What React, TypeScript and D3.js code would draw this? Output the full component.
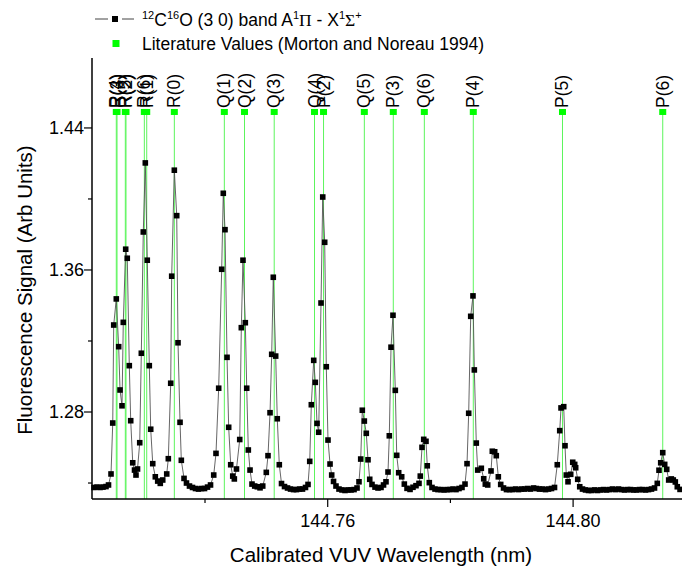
import React from 'react';
import * as d3 from 'd3';

// Measured spectrum: [wavelength (nm), fluorescence signal]
const wavelengths: number[] = [
  144.72191, 144.72240, 144.72289, 144.72337, 144.72386, 144.72427, 144.72468, 144.72496, 144.72512, 144.72554,
  144.72593, 144.72615, 144.72647, 144.72668, 144.72707, 144.72733, 144.72766, 144.72789, 144.72822, 144.72851,
  144.72875, 144.72900, 144.72936, 144.72962, 144.72994, 144.73027, 144.73059, 144.73092, 144.73115, 144.73148,
  144.73190, 144.73229, 144.73271, 144.73311, 144.73376, 144.73402, 144.73441, 144.73457, 144.73500, 144.73539,
  144.73560, 144.73593, 144.73614, 144.73658, 144.73698, 144.73747, 144.73796, 144.73845, 144.73894, 144.73943,
  144.73992, 144.74041, 144.74090, 144.74142, 144.74179, 144.74223, 144.74272, 144.74298, 144.74326, 144.74359,
  144.74386, 144.74419, 144.74452, 144.74478, 144.74513, 144.74566, 144.74592, 144.74619, 144.74657, 144.74680,
  144.74706, 144.74734, 144.74766, 144.74810, 144.74852, 144.74897, 144.74941, 144.74999, 144.75027, 144.75060,
  144.75087, 144.75113, 144.75152, 144.75178, 144.75211, 144.75247, 144.75296, 144.75345, 144.75394, 144.75443,
  144.75491, 144.75540, 144.75589, 144.75638, 144.75679, 144.75707, 144.75733, 144.75772, 144.75798, 144.75826,
  144.75853, 144.75891, 144.75919, 144.75951, 144.75977, 144.76005, 144.76038, 144.76065, 144.76095, 144.76135,
  144.76184, 144.76233, 144.76282, 144.76331, 144.76380, 144.76429, 144.76478, 144.76510, 144.76538, 144.76564,
  144.76597, 144.76629, 144.76657, 144.76685, 144.76722, 144.76771, 144.76820, 144.76869, 144.76910, 144.76950,
  144.76983, 144.77004, 144.77032, 144.77064, 144.77102, 144.77125, 144.77157, 144.77206, 144.77249, 144.77293,
  144.77342, 144.77390, 144.77439, 144.77488, 144.77509, 144.77537, 144.77565, 144.77602, 144.77623, 144.77656,
  144.77700, 144.77749, 144.77798, 144.77847, 144.77896, 144.77945, 144.77994, 144.78042, 144.78091, 144.78140,
  144.78189, 144.78238, 144.78271, 144.78298, 144.78331, 144.78368, 144.78390, 144.78422, 144.78445, 144.78504,
  144.78543, 144.78569, 144.78608, 144.78662, 144.78683, 144.78722, 144.78748, 144.78781, 144.78820, 144.78866,
  144.78914, 144.78963, 144.79012, 144.79061, 144.79110, 144.79159, 144.79208, 144.79257, 144.79306, 144.79355,
  144.79403, 144.79452, 144.79501, 144.79550, 144.79599, 144.79648, 144.79697, 144.79742, 144.79782, 144.79803,
  144.79847, 144.79868, 144.79889, 144.79917, 144.79961, 144.79994, 144.80026, 144.80042, 144.80075, 144.80108,
  144.80153, 144.80202, 144.80251, 144.80300, 144.80349, 144.80398, 144.80447, 144.80496, 144.80544, 144.80593,
  144.80642, 144.80691, 144.80740, 144.80789, 144.80838, 144.80887, 144.80936, 144.80985, 144.81033, 144.81082,
  144.81131, 144.81180, 144.81229, 144.81278, 144.81327, 144.81372, 144.81400, 144.81428, 144.81461, 144.81493,
  144.81526, 144.81558, 144.81601, 144.81633, 144.81666, 144.81698, 144.81743,
];

const signal: number[] = [
  1.2375, 1.2377, 1.2375, 1.2377, 1.2380, 1.2389, 1.2451, 1.2738, 1.3290, 1.3437,
  1.3168, 1.2924, 1.2835, 1.3305, 1.3717, 1.3666, 1.3061, 1.2751, 1.2514, 1.2473,
  1.2445, 1.2479, 1.2627, 1.3131, 1.3814, 1.4203, 1.3655, 1.3061, 1.2703, 1.2509,
  1.2435, 1.2411, 1.2398, 1.2417, 1.2451, 1.2537, 1.2962, 1.3565, 1.4162, 1.3906,
  1.3190, 1.2742, 1.2528, 1.2426, 1.2400, 1.2383, 1.2375, 1.2369, 1.2366, 1.2369,
  1.2369, 1.2377, 1.2389, 1.2445, 1.2567, 1.2934, 1.3604, 1.4032, 1.3827, 1.3108,
  1.2714, 1.2503, 1.2439, 1.2423, 1.2479, 1.2645, 1.3275, 1.3655, 1.3303, 1.2934,
  1.2586, 1.2473, 1.2394, 1.2383, 1.2379, 1.2373, 1.2383, 1.2460, 1.2554, 1.2796,
  1.3125, 1.3559, 1.3115, 1.2762, 1.2503, 1.2397, 1.2380, 1.2372, 1.2366, 1.2363,
  1.2363, 1.2366, 1.2366, 1.2375, 1.2392, 1.2522, 1.2841, 1.3091, 1.2967, 1.2736,
  1.2686, 1.3414, 1.4011, 1.3756, 1.3055, 1.2642, 1.2507, 1.2445, 1.2409, 1.2383,
  1.2366, 1.2361, 1.2358, 1.2361, 1.2361, 1.2363, 1.2372, 1.2407, 1.2535, 1.2810,
  1.2749, 1.2680, 1.2531, 1.2421, 1.2392, 1.2377, 1.2372, 1.2375, 1.2389, 1.2407,
  1.2462, 1.2666, 1.3165, 1.3345, 1.2922, 1.2556, 1.2458, 1.2435, 1.2394, 1.2370,
  1.2364, 1.2376, 1.2385, 1.2398, 1.2439, 1.2601, 1.2646, 1.2635, 1.2497, 1.2402,
  1.2375, 1.2366, 1.2363, 1.2363, 1.2361, 1.2363, 1.2363, 1.2366, 1.2363, 1.2369,
  1.2375, 1.2394, 1.2509, 1.2793, 1.3339, 1.3454, 1.3037, 1.2625, 1.2473, 1.2483,
  1.2424, 1.2394, 1.2389, 1.2468, 1.2579, 1.2576, 1.2554, 1.2435, 1.2392, 1.2372,
  1.2363, 1.2363, 1.2363, 1.2366, 1.2363, 1.2366, 1.2366, 1.2369, 1.2366, 1.2372,
  1.2369, 1.2366, 1.2366, 1.2363, 1.2366, 1.2369, 1.2375, 1.2503, 1.2695, 1.2823,
  1.2830, 1.2610, 1.2445, 1.2407, 1.2449, 1.2517, 1.2505, 1.2486, 1.2421, 1.2379,
  1.2366, 1.2361, 1.2358, 1.2358, 1.2361, 1.2358, 1.2361, 1.2363, 1.2361, 1.2363,
  1.2366, 1.2363, 1.2366, 1.2363, 1.2361, 1.2363, 1.2363, 1.2361, 1.2361, 1.2363,
  1.2363, 1.2361, 1.2363, 1.2366, 1.2372, 1.2398, 1.2472, 1.2514, 1.2571, 1.2505,
  1.2477, 1.2417, 1.2423, 1.2417, 1.2406, 1.2379, 1.2364,
];

// Literature line positions (Morton and Noreau 1994)
const litLabels: string[] = [
  'R(4)', 'R(5)', 'R(1)', 'R(3)', 'R(2)', 'R(6)', 'R(0)', 'Q(1)', 'Q(2)', 'Q(3)',
  'Q(4)', 'P(2)', 'Q(5)', 'P(3)', 'Q(6)', 'P(4)', 'P(5)', 'P(6)',
];
const litWavelengths: number[] = [
  144.72554, 144.72701, 144.73050, 144.72566, 144.72712, 144.73011, 144.73500, 144.74315, 144.74644, 144.75128,
  144.75785, 144.75932, 144.76597, 144.77069, 144.77575, 144.78373, 144.79827, 144.81461,
];
const litSignal = 1.449;

const xMajorTicks: number[] = [144.76, 144.8];
const xMinorTicks: number[] = [144.74, 144.78];
const yMajorTicks: number[] = [1.28, 1.36, 1.44];
const yMinorTicks: number[] = [1.24, 1.32, 1.4];

const W = 682;
const H = 567;
const plot = { left: 92, right: 682, top: 58, bottom: 499 };
const FONT = '"Liberation Sans", Arial, sans-serif';

export default function App() {
  const x = d3.scaleLinear().domain([144.72158, 144.81775]).range([plot.left, plot.right]);
  const y = d3.scaleLinear().domain([1.2310, 1.4794]).range([plot.bottom, plot.top]);

  const points = wavelengths.map((w, i) => [w, signal[i]] as [number, number]);
  const line = d3
    .line<[number, number]>()
    .x((d) => x(d[0]))
    .y((d) => y(d[1]));

  const ms = 5.6;
  const litY = y(litSignal);

  return (
    <svg
      width={W}
      height={H}
      viewBox={`0 0 ${W} ${H}`}
      style={{ position: 'absolute', left: 0, top: 0, background: '#fff' }}
      fontFamily={FONT}
    >
      <rect x={0} y={0} width={W} height={H} fill="#fff" />

      {/* literature drop lines */}
      {litWavelengths.map((w, i) => (
        <line
          key={'ll' + i}
          x1={x(w)}
          x2={x(w)}
          y1={litY}
          y2={plot.bottom}
          stroke="#5cf55c"
          strokeWidth={1}
        />
      ))}

      {/* spectrum line */}
      <path d={line(points) || ''} fill="none" stroke="#555" strokeWidth={0.9} />
      {points.map((d, i) => (
        <rect
          key={'p' + i}
          x={x(d[0]) - ms / 2}
          y={y(d[1]) - ms / 2}
          width={ms}
          height={ms}
          fill="#000"
        />
      ))}

      {/* literature markers and labels */}
      {litWavelengths.map((w, i) => (
        <g key={'lm' + i}>
          <rect x={x(w) - 3.5} y={litY - 3} width={7} height={6} fill="#00ff00" />
          <text
            x={x(w) + 6}
            y={108}
            transform={`rotate(-90, ${x(w) + 6}, 108)`}
            fontSize={17.5}
            fill="#000"
          >
            {litLabels[i]}
          </text>
        </g>
      ))}

      {/* axes */}
      <line x1={plot.left} x2={plot.left} y1={plot.top} y2={plot.bottom} stroke="#000" strokeWidth={1.5} />
      <line x1={plot.left} x2={plot.right} y1={plot.bottom} y2={plot.bottom} stroke="#000" strokeWidth={1.5} />

      {yMajorTicks.map((t) => (
        <g key={'ym' + t}>
          <line x1={plot.left - 8} x2={plot.left} y1={y(t)} y2={y(t)} stroke="#000" strokeWidth={1.2} />
          <text x={plot.left - 8} y={y(t) + 6} textAnchor="end" fontSize={18} fill="#000">
            {t.toFixed(2)}
          </text>
        </g>
      ))}
      {yMinorTicks.map((t) => (
        <line key={'yn' + t} x1={plot.left - 4} x2={plot.left} y1={y(t)} y2={y(t)} stroke="#000" strokeWidth={1.2} />
      ))}
      {xMajorTicks.map((t) => (
        <g key={'xm' + t}>
          <line x1={x(t)} x2={x(t)} y1={plot.bottom} y2={plot.bottom + 8} stroke="#000" strokeWidth={1.2} />
          <text x={x(t)} y={plot.bottom + 28} textAnchor="middle" fontSize={18} fill="#000">
            {t.toFixed(2)}
          </text>
        </g>
      ))}
      {xMinorTicks.map((t) => (
        <line key={'xn' + t} x1={x(t)} x2={x(t)} y1={plot.bottom} y2={plot.bottom + 4} stroke="#000" strokeWidth={1.2} />
      ))}

      {/* axis titles */}
      <text x={381} y={562} textAnchor="middle" fontSize={20.5} fill="#000">
        Calibrated VUV Wavelength (nm)
      </text>
      <text
        x={32}
        y={290}
        transform="rotate(-90, 32, 290)"
        textAnchor="middle"
        fontSize={20.5}
        fill="#000"
      >
        Fluorescence Signal (Arb Units)
      </text>

      {/* legend */}
      <g>
        <line x1={95} x2={108} y1={19} y2={19} stroke="#444" strokeWidth={1} />
        <line x1={122} x2={134} y1={19} y2={19} stroke="#444" strokeWidth={1} />
        <rect x={112} y={16} width={6} height={6} fill="#000" />
        <text x={142} y={26} fontSize={17.5} fill="#000">
          <tspan fontSize={11} dy={-7}>12</tspan>
          <tspan dy={7}>C</tspan>
          <tspan fontSize={11} dy={-7}>16</tspan>
          <tspan dy={7}>O (3 0) band A</tspan>
          <tspan fontSize={11} dy={-7}>1</tspan>
          <tspan dy={7} fontFamily='"Liberation Serif", "Times New Roman", serif'>Π</tspan>
          <tspan> - X</tspan>
          <tspan fontSize={11} dy={-7}>1</tspan>
          <tspan dy={7} fontFamily='"Liberation Serif", "Times New Roman", serif'>Σ</tspan>
          <tspan fontSize={11} dy={-7}>+</tspan>
        </text>
        <rect x={112.5} y={40} width={7} height={7} fill="#00ff00" />
        <text x={142} y={50} fontSize={17.5} fill="#000">
          Literature Values (Morton and Noreau 1994)
        </text>
      </g>
    </svg>
  );
}
